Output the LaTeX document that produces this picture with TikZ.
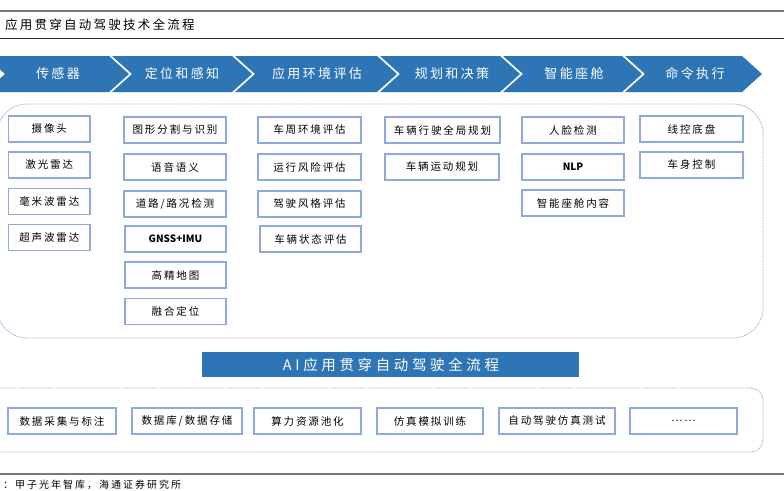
\documentclass[tikz,border=0pt]{standalone}
\usepackage{fontspec}
\setmainfont{Noto Sans CJK SC}
\newfontfamily\cjkls[LetterSpace=18]{Noto Sans CJK SC}
\newfontfamily\cjkwide[LetterSpace=25]{Noto Sans CJK SC}
\newfontfamily\cjkfoot[LetterSpace=20]{Noto Sans CJK SC}
\definecolor{chevblue}{RGB}{46,117,182}
\definecolor{boxblue}{RGB}{142,169,219}
\definecolor{dashblue}{RGB}{150,178,226}
\definecolor{rulegray}{RGB}{120,120,120}
\begin{document}
\begin{tikzpicture}[x=1pt,y=-1pt,
  bx/.style={draw=boxblue,line width=1.2pt,fill=white,inner sep=0pt,
    minimum height=26pt,align=center,font=\cjkls\fontsize{10.5}{12}\selectfont,text=black},
  chev/.style={fill=chevblue,draw=none},
  chevtext/.style={text=white,font=\cjkls\fontsize{13}{15}\selectfont,inner sep=0pt},
  dashbox/.style={draw=dashblue,line width=0.8pt,dash pattern=on 1.6pt off 1pt}]
\useasboundingbox (0,0) rectangle (784,490);
\clip (0,0) rectangle (784,490);
\fill[white] (0,0) rectangle (784,490);

% header rules and title
\draw[rulegray,line width=1.4pt] (-5,11) -- (790,11);
\draw[black!85,line width=1pt] (-5,38) -- (790,38);
\node[anchor=west,inner sep=0pt,font=\cjkls\fontsize{12.5}{14}\selectfont] (title) at (5,25) {应用贯穿自动驾驶技术全流程};

% chevrons
\fill[chev] (-15,56) -- (109,56) -- (129,74) -- (109,92) -- (-15,92) -- (5,74) -- cycle;
\fill[chev] (112,56) -- (232,56) -- (252,74) -- (232,92) -- (112,92) -- (132,74) -- cycle;
\fill[chev] (235,56) -- (377,56) -- (397,74) -- (377,92) -- (235,92) -- (255,74) -- cycle;
\fill[chev] (380,56) -- (500,56) -- (520,74) -- (500,92) -- (380,92) -- (400,74) -- cycle;
\fill[chev] (503,56) -- (622,56) -- (642,74) -- (622,92) -- (503,92) -- (523,74) -- cycle;
\fill[chev] (625,56) -- (742,56) -- (762,74) -- (742,92) -- (625,92) -- (645,74) -- cycle;
\node[chevtext] (c1) at (58,74) {传感器};
\node[chevtext] (c2) at (182,74) {定位和感知};
\node[chevtext] (c3) at (317,74) {应用环境评估};
\node[chevtext] (c4) at (452,74) {规划和决策};
\node[chevtext] (c5) at (574,74) {智能座舱};
\node[chevtext] (c6) at (695,74) {命令执行};

% big dashed container
\draw[dashbox,rounded corners=30pt] (-3,104) rectangle (763,338);

% column 1
\node[bx,minimum width=81.5pt] (b11) at (49.3,129) {摄像头};
\node[bx,minimum width=81.5pt] (b12) at (49.3,165) {激光雷达};
\node[bx,minimum width=81.5pt] (b13) at (49.3,201.5) {毫米波雷达};
\node[bx,minimum width=81.5pt] (b14) at (49.3,237.5) {超声波雷达};
% column 2
\node[bx,minimum width=102pt] (b21) at (175,130) {图形分割与识别};
\node[bx,minimum width=102pt] (b22) at (175,167) {语音语义};
\node[bx,minimum width=102pt] (b23) at (175,204) {道路/路况检测};
\node[bx,minimum width=101pt,font=\bfseries\fontsize{10}{12}\selectfont] (b24) at (175.5,239) {GNSS+IMU};
\node[bx,minimum width=101pt] (b25) at (175.5,275) {高精地图};
\node[bx,minimum width=101pt] (b26) at (175.5,311.5) {融合定位};
% column 3
\node[bx,minimum width=103pt] (b31) at (309.5,130) {车周环境评估};
\node[bx,minimum width=103pt] (b32) at (309.5,167) {运行风险评估};
\node[bx,minimum width=103pt] (b33) at (309.5,204) {驾驶风格评估};
\node[bx,minimum width=101pt] (b34) at (310.5,239) {车辆状态评估};
% column 4
\node[bx,minimum width=115pt] (b41) at (442.5,130) {车辆行驶全局规划};
\node[bx,minimum width=114pt] (b42) at (442,167) {车辆运动规划};
% column 5
\node[bx,minimum width=102pt] (b51) at (573,130) {人脸检测};
\node[bx,minimum width=102pt,font=\bfseries\fontsize{10}{12}\selectfont] (b52) at (573,167) {NLP};
\node[bx,minimum width=102pt] (b53) at (573,203) {智能座舱内容};
% column 6
\node[bx,minimum width=103pt] (b61) at (691.5,129) {线控底盘};
\node[bx,minimum width=103pt] (b62) at (691.5,165) {车身控制};

% banner
\fill[chevblue] (202,352) rectangle (579,377);
\node[text=white,inner sep=0pt,font=\cjkwide\fontsize{14.5}{16}\selectfont] (banner) at (391,364.5) {AI应用贯穿自动驾驶全流程};

% bottom dashed container
\draw[dashbox,rounded corners=12pt] (-20,388) rectangle (763,452);
\node[bx,minimum width=108pt] (d1) at (62,421) {数据采集与标注};
\node[bx,minimum width=110pt] (d2) at (187,421) {数据库/数据存储};
\node[bx,minimum width=107pt] (d3) at (307.5,421) {算力资源池化};
\node[bx,minimum width=106pt] (d4) at (430,421) {仿真模拟训练};
\node[bx,minimum width=116pt] (d5) at (557,421) {自动驾驶仿真测试};
\node[bx,minimum width=107pt] (d6) at (683.5,421) {……};

% footer
\draw[rulegray,line width=1.4pt] (-5,474) -- (790,474);
\node[anchor=west,inner sep=0pt,font=\cjkfoot\fontsize{10}{12}\selectfont] (source) at (3,485) {：甲子光年智库，海通证券研究所};
\end{tikzpicture}
\end{document}
